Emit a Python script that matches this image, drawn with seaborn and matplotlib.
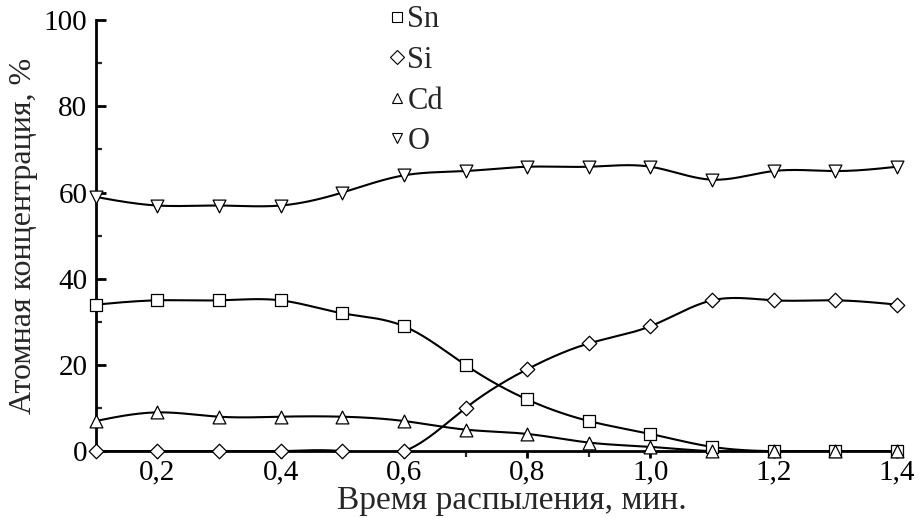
import numpy as np
import matplotlib
matplotlib.use("Agg")
import matplotlib.pyplot as plt
from matplotlib.lines import Line2D
import seaborn as sns

# sputtering time, min
time = [0.1, 0.2, 0.3, 0.4, 0.5, 0.6, 0.7, 0.8, 0.9, 1.0, 1.1, 1.2, 1.3, 1.4]
# atomic concentration, %
sn = [34, 35, 35, 35, 32, 29, 20, 12, 7, 4, 1, 0, 0, 0]
si = [0, 0, 0, 0, 0, 0, 10, 19, 25, 29, 35, 35, 35, 34]
cd = [7, 9, 8, 8, 8, 7, 5, 4, 2, 1, 0, 0, 0, 0]
ox = [59, 57, 57, 57, 60, 64, 65, 66, 66, 66, 63, 65, 65, 66]

names = ["Sn", "Si", "Cd", "O"]
markers = ["s", "D", "^", "v"]
msizes = [75, 55, 85, 85]
xticks = [0.2, 0.4, 0.6, 0.8, 1.0, 1.2, 1.4]


def spline(x, y, n=400):
    # natural cubic spline, only for the smooth look of the curves
    x = np.asarray(x, float)
    y = np.asarray(y, float)
    k = len(x)
    h = np.diff(x)
    A = np.zeros((k, k))
    b = np.zeros(k)
    A[0, 0] = A[-1, -1] = 1
    for i in range(1, k - 1):
        A[i, i - 1] = h[i - 1]
        A[i, i] = 2 * (h[i - 1] + h[i])
        A[i, i + 1] = h[i]
        b[i] = 6 * ((y[i + 1] - y[i]) / h[i] - (y[i] - y[i - 1]) / h[i - 1])
    M = np.linalg.solve(A, b)
    xs = np.linspace(x[0], x[-1], n)
    idx = np.clip(np.searchsorted(x, xs) - 1, 0, k - 2)
    x0, x1 = x[idx], x[idx + 1]
    hh = x1 - x0
    t0 = x1 - xs
    t1 = xs - x0
    ys = (M[idx] * t0**3 / (6 * hh) + M[idx + 1] * t1**3 / (6 * hh)
          + (y[idx] / hh - M[idx] * hh / 6) * t0
          + (y[idx + 1] / hh - M[idx + 1] * hh / 6) * t1)
    return xs, ys


sns.set_style("ticks")
plt.rcParams["font.family"] = ["Liberation Serif", "DejaVu Serif"]

fig = plt.figure(figsize=(9.2, 5.18), dpi=100)
ax = fig.add_axes([0.104, 0.129, 0.871, 0.832])

for vals, m, s in zip([sn, si, cd, ox], markers, msizes):
    xs, ys = spline(time, vals)
    sns.lineplot(x=xs, y=ys, color="black", linewidth=1.5, ax=ax, sort=False)
    sns.scatterplot(x=time, y=vals, marker=m, s=s, color="white",
                    edgecolor="black", linewidth=0.9, ax=ax, zorder=3,
                    clip_on=False)

ax.set_xlim(0.1, 1.4)
ax.set_ylim(0, 100)
ax.set_xticks(xticks)
ax.set_xticklabels([f"{t:.1f}".replace(".", ",") for t in xticks])
ax.set_xticks(np.arange(0.1, 1.45, 0.1), minor=True)
ax.set_yticks([0, 20, 40, 60, 80, 100])
ax.set_yticks(np.arange(10, 100, 20), minor=True)
ax.tick_params(axis="both", labelsize=21, width=2, length=7, colors="black")
ax.tick_params(axis="both", which="minor", width=1.6, length=4)
ax.tick_params(axis="y", which="both", direction="in", pad=6)
ax.tick_params(axis="x", which="major", direction="out", length=5, pad=1)
ax.tick_params(axis="x", which="minor", direction="out", length=4)

for side in ["top", "right"]:
    ax.spines[side].set_visible(False)
for side in ["left", "bottom"]:
    ax.spines[side].set_linewidth(2)
    ax.spines[side].set_color("black")

ax.set_xlabel("Время распыления, мин.", fontsize=24)
ax.xaxis.set_label_coords(0.52, -0.080)
ax.set_ylabel("Атомная концентрация, %", fontsize=23, labelpad=4)

handles = [Line2D([], [], linestyle="none", marker=m, markersize=7,
                  markerfacecolor="white", markeredgecolor="black",
                  markeredgewidth=0.8) for m in markers]
ax.legend(handles, names, loc="upper left", bbox_to_anchor=(0.347, 1.07),
          frameon=False, fontsize=22, handlelength=0.5, handletextpad=0.1,
          labelspacing=0.38, borderpad=0)

fig.savefig("out.png", dpi=100)
